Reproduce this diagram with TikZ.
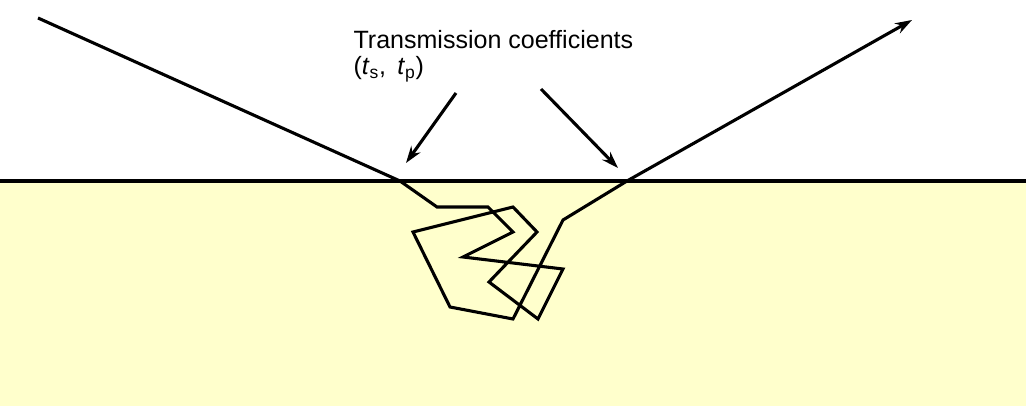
\documentclass[tikz,border=0pt]{standalone}
\usepackage{fontspec}
\setmainfont{Liberation Sans}
\usetikzlibrary{arrows.meta}
\definecolor{medium}{HTML}{FFFFCC}

\begin{document}
\begin{tikzpicture}[x=0.025cm, y=-0.025cm, line width=2.2pt, >={Stealth[length=12pt, width=8pt]}, font=\fontsize{17.8}{21}\selectfont]
    \tikzstyle{ray}  = [draw, line join=miter]
    \tikzstyle{desc} = [anchor=base west, inner sep=0]

    \useasboundingbox (0,0) rectangle (1026,406);
    \fill[medium] (0,181) rectangle (1026,406);

    % surface and the two crossing points
    \coordinate (left)  at (0,181);
    \coordinate (right) at (1026,181);
    \coordinate (entry) at (400,181);
    \coordinate (exit)  at (627,181);
    \coordinate (src)   at (38,18);
    \coordinate (dst)   at (912,20);

    % scattering path inside the medium
    \coordinate (s1)  at (437,207);
    \coordinate (s2)  at (488,207);
    \coordinate (s3)  at (513,232);
    \coordinate (s4)  at (463,257);
    \coordinate (s5)  at (563,269);
    \coordinate (s6)  at (538,319);
    \coordinate (s7)  at (489,282);
    \coordinate (s8)  at (537,232);
    \coordinate (s9)  at (513,207);
    \coordinate (s10) at (413,232);
    \coordinate (s11) at (450,307);
    \coordinate (s12) at (513,319);
    \coordinate (s13) at (563,220);

    \node[desc] (title)  at (352,49) {Transmission coefficients};
    \node[desc] (coeffs) at (352,75) {(\textit{t}\textsubscript{s},\, \textit{t}\textsubscript{p})};

    \coordinate (a1) at (456,93);
    \coordinate (b1) at (406,163);
    \coordinate (a2) at (541,89);
    \coordinate (b2) at (618,168);

    \draw (left) -- (right);
    \draw[ray, ->] (src) -- (entry) -- (s1) -- (s2) -- (s3) -- (s4) -- (s5) -- (s6) -- (s7)
        -- (s8) -- (s9) -- (s10) -- (s11) -- (s12) -- (s13) -- (exit) -- (dst);
    \draw[->] (a1) -- (b1);
    \draw[->] (a2) -- (b2);
\end{tikzpicture}
\end{document}
